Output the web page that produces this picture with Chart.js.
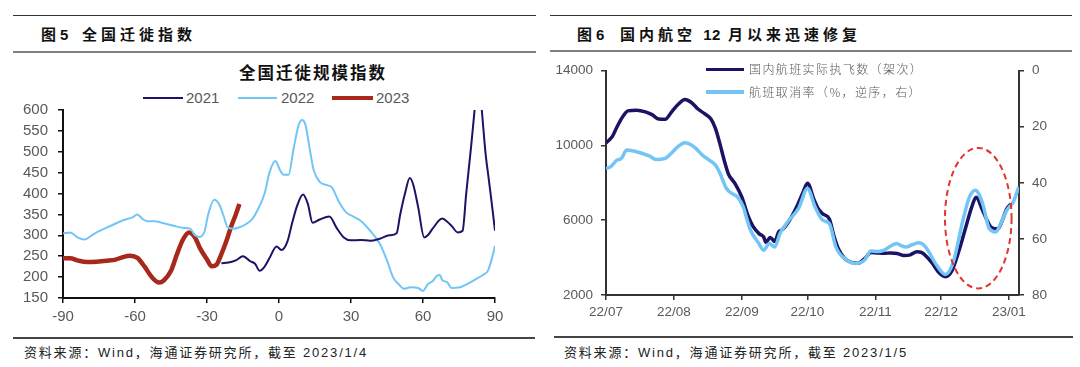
<!DOCTYPE html>
<html>
<head>
<meta charset="utf-8">
<script src="https://cdn.jsdelivr.net/npm/chart.js"></script>
<style>
  body { margin: 0; background: #fff; }
  #page { position: relative; width: 1080px; height: 367px; overflow: hidden; font-family: "Liberation Sans", Arial, "Noto Sans CJK SC", sans-serif; }
  .abs { position: absolute; white-space: nowrap; }
  .rule { position: absolute; }
  .head { font-family: "Liberation Sans", "Noto Sans CJK SC", sans-serif; font-weight: bold; font-size: 15px; line-height: 22px; letter-spacing: 4px; color: #111; }
  .src { font-family: "Liberation Sans Narrow", "Liberation Sans", "Noto Sans CJK SC", sans-serif; font-size: 13px; line-height: 18px; letter-spacing: 1.8px; color: #222; }
  .lg { font-size: 15px; line-height: 18px; color: #595959; }
  .lg2 { font-family: "Noto Sans CJK SC", sans-serif; font-weight: 300; font-size: 12px; line-height: 16px; letter-spacing: 1.4px; color: #595959; }
  canvas { position: absolute; }
</style>
</head>
<body>
<div id="page">
  <!-- left panel frame -->
  <div class="rule" style="left:13px;top:15px;width:523px;height:1px;background:#333"></div>
  <div class="abs head" style="left:41px;top:23.5px">图5</div>
  <div class="abs head" style="left:82px;top:23.5px">全国迁徙指数</div>
  <div class="rule" style="left:13px;top:51px;width:523px;height:2px;background:#808080"></div>
  <div class="abs" style="left:239px;top:61px;font-family:'Noto Sans CJK SC',sans-serif;font-weight:bold;font-size:16.5px;line-height:22px;letter-spacing:2px;color:#111">全国迁徙规模指数</div>
  <div class="rule" style="left:143px;top:97px;width:40px;height:2px;background:#1B1464"></div>
  <div class="abs lg" style="left:186px;top:89px">2021</div>
  <div class="rule" style="left:238px;top:97px;width:39px;height:2px;background:#72C5F5"></div>
  <div class="abs lg" style="left:281px;top:89px">2022</div>
  <div class="rule" style="left:332px;top:96px;width:41px;height:4px;background:#A8281C"></div>
  <div class="abs lg" style="left:376px;top:89px">2023</div>
  <canvas id="migration" width="505" height="246" style="left:13px;top:90px"></canvas>
  <div class="rule" style="left:13px;top:337px;width:522px;height:2px;background:#444"></div>
  <div class="abs src" style="left:24px;top:344px">资料来源：Wind，海通证券研究所，截至 2023/1/4</div>

  <!-- right panel frame -->
  <div class="rule" style="left:550px;top:15px;width:522px;height:1px;background:#333"></div>
  <div class="abs head" style="left:577px;top:23.5px">图6</div>
  <div class="abs head" style="left:620px;top:23.5px;word-spacing:-1px">国内航空 <span style="letter-spacing:0.5px">12</span> 月以来迅速修复</div>
  <div class="rule" style="left:550px;top:50px;width:522px;height:2px;background:#808080"></div>
  <canvas id="flights" width="510" height="280" style="left:550px;top:50px"></canvas>
  <div class="rule" style="left:706px;top:67.5px;width:38px;height:3.5px;background:#1B1464"></div>
  <div class="abs lg2" style="left:749px;top:61px">国内航班实际执飞数（架次）</div>
  <div class="rule" style="left:706px;top:90px;width:38px;height:3.5px;background:#72C5F5"></div>
  <div class="abs lg2" style="left:749px;top:84px">航班取消率（%，逆序，右）</div>
  <div class="rule" style="left:554px;top:336px;width:519px;height:2px;background:#444"></div>
  <div class="abs src" style="left:564px;top:344px">资料来源：Wind，海通证券研究所，截至 2023/1/5</div>
</div>
<script>
// 全国迁徙规模指数: x = days relative to Spring Festival
var days2021 = [-24,-21,-18,-15,-12,-10,-8,-6,-4,-1,1,3.5,5.5,7.5,10,12,14,17,21,24,27,30,34,38,42,46,49,50.5,52.5,54.5,56,58,60.5,62,64,68,70,72,74.5,76.5,78,80,81.5,83,84.5,86,87.5,89,90];
var idx2021 = [233,235,240,250,238,232,215,225,245,273,265,285,330,370,398,376,330,338,345,318,295,288,289,287,292,300,305,350,400,437,420,367,295,300,316,340,333,322,307,311,400,510,600,690,600,500,430,360,311];
var days2022 = [-90,-87,-84,-81,-78,-76,-70,-65,-61,-59,-57,-55,-52,-48,-44,-40,-37,-35,-33,-31,-29.5,-27,-25,-23,-21.5,-19,-17,-14,-11,-9,-6,-4,-1.5,0.5,2,4,6,8,9.5,11,13,14.5,17,20,22,25,28,31,34,38,42,45,47.5,50,52,55,58,60,62,64,66,67,68,70,72,75,78,82,85,87,88.5,90];
var idx2022 = [305,307,295,290,300,307,323,336,343,350,340,334,334,329,323,318,316,300,296,310,350,385,375,345,320,316,318,326,340,360,400,450,478,455,445,445,505,560,576,565,500,455,428,420,415,380,355,345,335,311,280,240,200,182,172,176,174,167,183,190,204,205,193,188,174,175,182,195,205,215,240,275];
var days2023 = [-90,-87,-84,-80,-76,-72,-68,-65,-62,-59,-56,-53,-50,-48,-45,-42.5,-40,-37.5,-35,-33,-30,-28,-26,-24.5,-22,-20,-18,-16.5];
var idx2023 = [245,245,240,236,237,239,242,248,251,246,225,200,187,192,215,255,290,307,295,270,242,226,230,248,285,320,350,375];

// 国内航班: x = days since 2022-07-01
var flightDays = [0,3,5,8,10,14,18,21,24,27,30,33,36,39,42,45,48,50,52,54,56,59,62,65,67,70,72,73,75,77,79,80,83,87,90,92,95,97,99,102,104,106,109,112,115,118,121,124,127,130,133,136,139,142,144,146,149,152,155,158,161,164,167,169,172,174,176,179,181,183,185];
var flights = [10130,10500,10990,11600,11850,11890,11800,11650,11420,11400,11800,12200,12460,12300,11950,11700,11400,10900,10100,9200,8450,7950,7250,6200,5700,5270,5100,4820,5080,4870,5400,5450,5850,6700,7500,7980,7100,6600,6340,6070,5200,4500,3950,3750,3700,3930,4280,4250,4230,4250,4220,4110,4150,4320,4280,4100,3700,3200,2980,3300,4300,5500,6700,7230,6520,6000,5620,5540,6000,6610,6880];
var cancelDays = [0,2,5,7,9.5,14,20,23,27,30.5,33,36,39,41,44,47,50,52,55,58,60,62.7,64,66,69.6,72,74.6,77,79.5,83,88,92,95.5,99,102,105,110,114,118,121,124,127,130,132.7,135,137,140,143,146,151,155,158.6,163,166,168.7,172,175,178,180,183,186,188.5];
var cancelRate = [34.9,34.3,31.9,31.3,28.3,28.9,30.5,31.7,31.3,28.9,27.0,25.7,26.5,27.7,30.1,31.8,33.7,36.5,42,44,45,48.6,52,56.9,61.4,64,61.6,62.9,58,53.9,49,42,48.6,53.3,54.5,62.9,67.6,68.8,67.6,64.3,64.5,64,62.5,61.6,62.5,62.9,62,61.4,62.9,69.4,72.7,68.2,53.3,45,42.6,47.4,56.3,57.5,55,49.8,46.8,41.4];
var monthDays = [0,31,62,92,123,153,184];
var monthLabels = ['22/07','22/08','22/09','22/10','22/11','22/12','23/01'];

// highlighted area (dashed ring) in data units
var ringDay = 170, ringHalfDays = 15.2;
var ringFlights = 6110, ringHalfFlights = 3760;

function pts(xs, ys) {
  return xs.map(function (x, i) { return {x: x, y: ys[i]}; });
}
function plain(v) { return String(v); }

var tickFont = {family: "'Liberation Sans', Arial, sans-serif", size: 15};
var tickFont2 = {family: "'Liberation Sans', Arial, sans-serif", size: 13.5};

new Chart(document.getElementById('migration').getContext('2d'), {
  type: 'line',
  data: {
    datasets: [{
      label: '2021',
      data: pts(days2021, idx2021),
      borderColor: '#1B1464',
      borderWidth: 2,
      pointRadius: 0,
      cubicInterpolationMode: 'monotone'
    }, {
      label: '2022',
      data: pts(days2022, idx2022),
      borderColor: '#72C5F5',
      borderWidth: 2,
      pointRadius: 0,
      cubicInterpolationMode: 'monotone'
    }, {
      label: '2023',
      data: pts(days2023, idx2023),
      borderColor: '#A8281C',
      borderWidth: 4.5,
      pointRadius: 0,
      cubicInterpolationMode: 'monotone'
    }]
  },
  options: {
    responsive: false,
    animation: false,
    layout: {padding: {left: 0, right: 23, top: 20, bottom: 5}},
    plugins: {legend: {display: false}, tooltip: {enabled: false}},
    scales: {
      x: {
        type: 'linear', min: -90, max: 90,
        ticks: {stepSize: 30, color: '#595959', font: tickFont, padding: 5, maxRotation: 0, autoSkip: false, callback: plain},
        grid: {drawOnChartArea: false, tickLength: 5, color: '#111', lineWidth: 1.5},
        border: {color: '#111', width: 2}
      },
      y: {
        min: 150, max: 600,
        ticks: {stepSize: 50, color: '#595959', font: tickFont, padding: 10, autoSkip: false, callback: plain},
        grid: {drawOnChartArea: false, tickLength: 5, color: '#111', lineWidth: 1.5},
        border: {color: '#111', width: 2},
        afterFit: function (s) { s.width = 50; }
      }
    }
  }
});

var ringPlugin = {
  id: 'ring',
  afterDatasetsDraw: function (chart) {
    var ctx = chart.ctx, x = chart.scales.x, y = chart.scales.y;
    var cx = x.getPixelForValue(ringDay), cy = y.getPixelForValue(ringFlights);
    var rx = Math.abs(x.getPixelForValue(ringDay + ringHalfDays) - cx);
    var ry = Math.abs(y.getPixelForValue(ringFlights + ringHalfFlights) - cy);
    ctx.save();
    ctx.setLineDash([6, 4]);
    ctx.strokeStyle = '#E3342F';
    ctx.lineWidth = 2;
    ctx.beginPath();
    ctx.ellipse(cx, cy, rx, ry, 0, 0, Math.PI * 2);
    ctx.stroke();
    ctx.restore();
  }
};

new Chart(document.getElementById('flights').getContext('2d'), {
  type: 'line',
  data: {
    datasets: [{
      label: '国内航班实际执飞数（架次）',
      data: pts(flightDays, flights),
      borderColor: '#1B1464',
      borderWidth: 3.5,
      pointRadius: 0,
      cubicInterpolationMode: 'monotone',
      yAxisID: 'y',
      order: 1
    }, {
      label: '航班取消率（%，逆序，右）',
      data: pts(cancelDays, cancelRate),
      borderColor: '#72C5F5',
      borderWidth: 3.5,
      pointRadius: 0,
      cubicInterpolationMode: 'monotone',
      yAxisID: 'y1',
      order: 0
    }]
  },
  plugins: [ringPlugin],
  options: {
    responsive: false,
    animation: false,
    layout: {padding: {left: 0, right: 0, top: 20.7, bottom: 5.8}},
    plugins: {legend: {display: false}, tooltip: {enabled: false}},
    scales: {
      x: {
        type: 'linear', min: 0, max: 188.6,
        afterBuildTicks: function (s) { s.ticks = monthDays.map(function (v) { return {value: v}; }); },
        ticks: {
          color: '#595959', font: tickFont2, padding: 4, maxRotation: 0, autoSkip: false,
          callback: function (v, i) { return monthLabels[i]; }
        },
        grid: {drawOnChartArea: false, tickLength: 5, color: '#333', lineWidth: 1.5},
        border: {color: '#333', width: 2}
      },
      y: {
        position: 'left', min: 2000, max: 14000,
        ticks: {stepSize: 4000, color: '#595959', font: tickFont2, padding: 8, autoSkip: false, callback: plain},
        grid: {drawOnChartArea: false, tickLength: 5, color: '#333', lineWidth: 1.5},
        border: {color: '#333', width: 2},
        afterFit: function (s) { s.width = 56; }
      },
      y1: {
        position: 'right', reverse: true, min: 0, max: 80,
        ticks: {stepSize: 20, color: '#595959', font: tickFont2, padding: 8, autoSkip: false, callback: plain},
        grid: {drawOnChartArea: false, tickLength: 5, color: '#333', lineWidth: 1.5},
        border: {color: '#333', width: 2},
        afterFit: function (s) { s.width = 41; }
      }
    }
  }
});
</script>
</body>
</html>
